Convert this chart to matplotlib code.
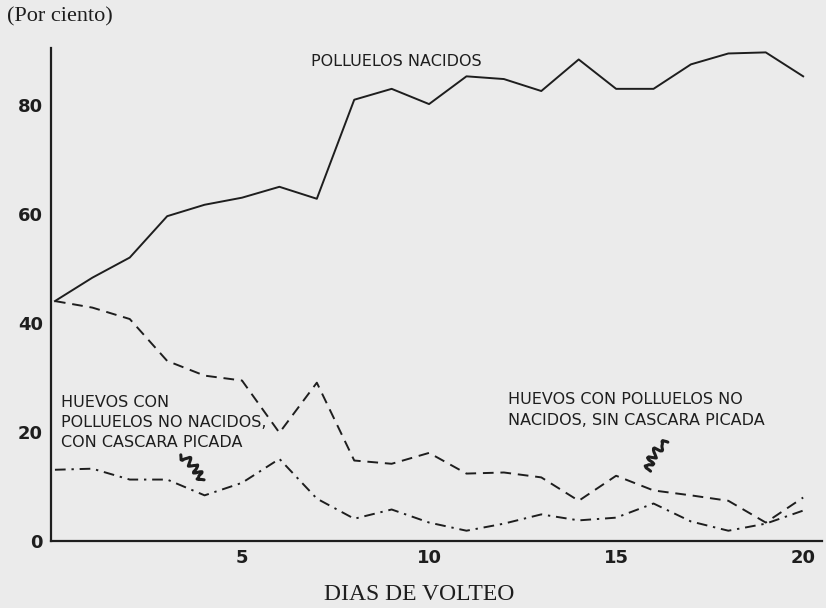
import numpy as np
import matplotlib
matplotlib.use("Agg")
import matplotlib.pyplot as plt

# ------------------------------------------------------------------
# Datos (por ciento, según días de volteo)
# ------------------------------------------------------------------
dias = list(range(0, 21))

nacidos = [44.0, 48.3, 52.0, 59.6, 61.7, 63.0, 65.0, 62.8, 81.0, 83.0,
           80.2, 85.3, 84.8, 82.6, 88.4, 83.0, 83.0, 87.5, 89.5, 89.7, 85.3]

sin_picada = [44.0, 42.8, 40.7, 33.0, 30.3, 29.4, 19.8, 29.0, 14.7, 14.1,
              16.1, 12.3, 12.5, 11.6, 7.3, 11.9, 9.2, 8.3, 7.3, 3.3, 7.9]

con_picada = [13.0, 13.2, 11.2, 11.2, 8.3, 10.6, 15.0, 7.7, 4.0, 5.7,
              3.3, 1.8, 3.1, 4.8, 3.7, 4.2, 6.8, 3.5, 1.8, 3.1, 5.5]

ticks_x = [5, 10, 15, 20]
ticks_y = [0, 20, 40, 60, 80]

color_tinta = '#1e1e1e'
color_papel = '#ebebeb'

fig = plt.figure(figsize=(8.26, 6.08), dpi=100, facecolor=color_papel)
ax = fig.add_axes([0.062, 0.111, 0.933, 0.81])
ax.set_facecolor(color_papel)

ax.plot(dias, nacidos, color=color_tinta, lw=1.4)
ax.plot(dias, sin_picada, color=color_tinta, lw=1.4, dashes=(5.5, 3.5))
ax.plot(dias, con_picada, color=color_tinta, lw=1.4, dashes=(5.5, 3, 1.2, 3))

ax.set_xlim(-0.1, 20.5)
ax.set_ylim(0, 90.5)

for lado in ['top', 'right']:
    ax.spines[lado].set_visible(False)
for lado in ['left', 'bottom']:
    ax.spines[lado].set_color(color_tinta)
    ax.spines[lado].set_linewidth(1.6)

ax.set_xticks(ticks_x)
ax.set_yticks(ticks_y)
ax.tick_params(length=0, labelsize=13, colors=color_tinta, pad=6)
for lbl in ax.get_xticklabels() + ax.get_yticklabels():
    lbl.set_fontweight('bold')

# Rótulos de los ejes
fig.text(0.008, 0.973, "(Por ciento)", fontsize=16, family='Liberation Serif',
         color=color_tinta, ha='left', va='center')
fig.text(0.507, 0.022, "DIAS DE VOLTEO", fontsize=17, family='Liberation Serif',
         color=color_tinta, ha='center', va='center')

# Etiquetas de las curvas
estilo = dict(fontsize=11.5, color=color_tinta, family='DejaVu Sans',
              linespacing=1.45)
ax.text(6.85, 88.0, "POLLUELOS NACIDOS", ha='left', va='center', **estilo)
ax.text(0.15, 26.8, "HUEVOS CON\nPOLLUELOS NO NACIDOS,\nCON CASCARA PICADA",
        ha='left', va='top', **estilo)
ax.text(12.1, 27.2, "HUEVOS CON POLLUELOS NO\nNACIDOS, SIN CASCARA PICADA",
        ha='left', va='top', **estilo)

# Trazos ondulados que unen etiqueta y curva
a1 = ax.annotate("", xy=(3.95, 10.5), xytext=(3.3, 16.0),
                 arrowprops=dict(arrowstyle='-', color=color_tinta, lw=2.2,
                                 connectionstyle="arc3,rad=-0.2"))
a1.arrow_patch.set_sketch_params(scale=4, length=10, randomness=2)
a2 = ax.annotate("", xy=(15.85, 12.3), xytext=(16.45, 18.3),
                 arrowprops=dict(arrowstyle='-', color=color_tinta, lw=2.2,
                                 connectionstyle="arc3,rad=0.3"))
a2.arrow_patch.set_sketch_params(scale=4, length=10, randomness=2)

plt.savefig("out.png", dpi=100, facecolor=color_papel)
plt.close()
